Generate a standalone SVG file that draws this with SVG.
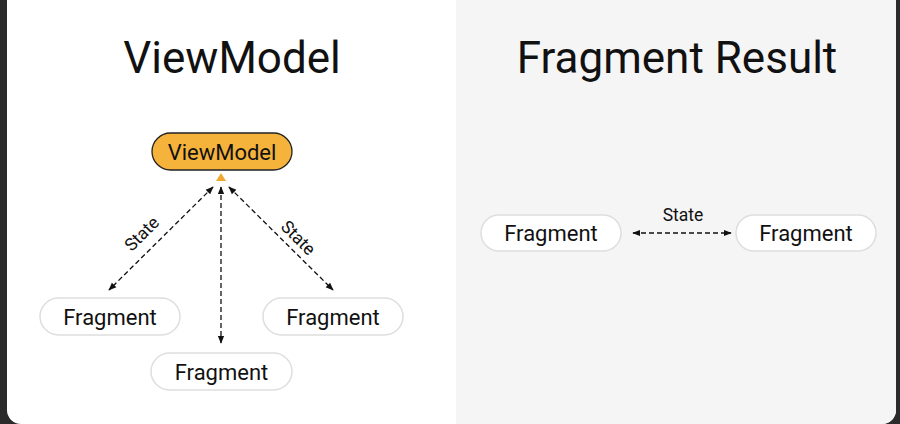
<svg xmlns="http://www.w3.org/2000/svg" width="900" height="424" viewBox="0 0 900 424">
<defs>
<style>
.title{font-family:"Roboto","Noto Sans",sans-serif;font-size:44px;fill:#111;text-anchor:middle}
.frag rect{fill:#fff;stroke:#dedede;stroke-width:1.5}
.lbl{font-family:"Roboto","Noto Sans",sans-serif;font-size:22px;fill:#111;text-anchor:middle}
.small{font-family:"Roboto","Noto Sans",sans-serif;font-size:17.5px;fill:#111;text-anchor:middle}
.conn{stroke:#111;stroke-width:1.3;stroke-dasharray:5 3;fill:none;marker-start:url(#ah);marker-end:url(#ah)}
</style>
<marker id="ah" viewBox="0 0 10 10" refX="9" refY="5" markerWidth="8" markerHeight="8" orient="auto-start-reverse" markerUnits="userSpaceOnUse">
<path d="M0,1 L10,5 L0,9 Z" fill="#111"/>
</marker>
</defs>
<rect x="0" y="0" width="900" height="424" fill="#2b2b2b"/>
<path d="M7,0 H896 V410 A14,14 0 0 1 882,424 H21 A14,14 0 0 1 7,410 Z" fill="#ffffff"/>
<path d="M456,0 H896 V410 A14,14 0 0 1 882,424 H456 Z" fill="#f5f5f5"/>
<text class="title" x="232" y="73">ViewModel</text>
<text class="title" x="677" y="73">Fragment Result</text>
<g id="viewmodel">
<rect x="152" y="133" width="140" height="37" rx="18.5" fill="#f6b33c" stroke="#222" stroke-width="1.3"/>
<text class="lbl" x="222" y="159.5">ViewModel</text>
<path d="M221,173 L226,181 L216,181 Z" fill="#f0a830"/>
</g>
<g id="frag-left" class="frag"><rect x="40" y="298" width="140" height="37" rx="18.5"/><text class="lbl" x="110" y="324.5">Fragment</text></g>
<g id="frag-right" class="frag"><rect x="263" y="298" width="140" height="37" rx="18.5"/><text class="lbl" x="333" y="324.5">Fragment</text></g>
<g id="frag-bottom" class="frag"><rect x="151" y="353" width="141" height="37" rx="18.5"/><text class="lbl" x="221.5" y="379.5">Fragment</text></g>
<g id="frag-a" class="frag"><rect x="481" y="215" width="140" height="36" rx="18"/><text class="lbl" x="551" y="241">Fragment</text></g>
<g id="frag-b" class="frag"><rect x="736" y="215" width="140" height="36" rx="18"/><text class="lbl" x="806" y="241">Fragment</text></g>
<g id="connectors">
<path class="conn" d="M213,187 L109,290"/>
<path class="conn" d="M221,187 L221,343"/>
<path class="conn" d="M229,187 L333,290"/>
<path class="conn" d="M633,233 L731,233"/>
<text class="small" transform="translate(146,238) rotate(-45)">State</text>
<text class="small" transform="translate(294,242) rotate(45)">State</text>
<text class="small" x="683" y="221">State</text>
</g>
</svg>
